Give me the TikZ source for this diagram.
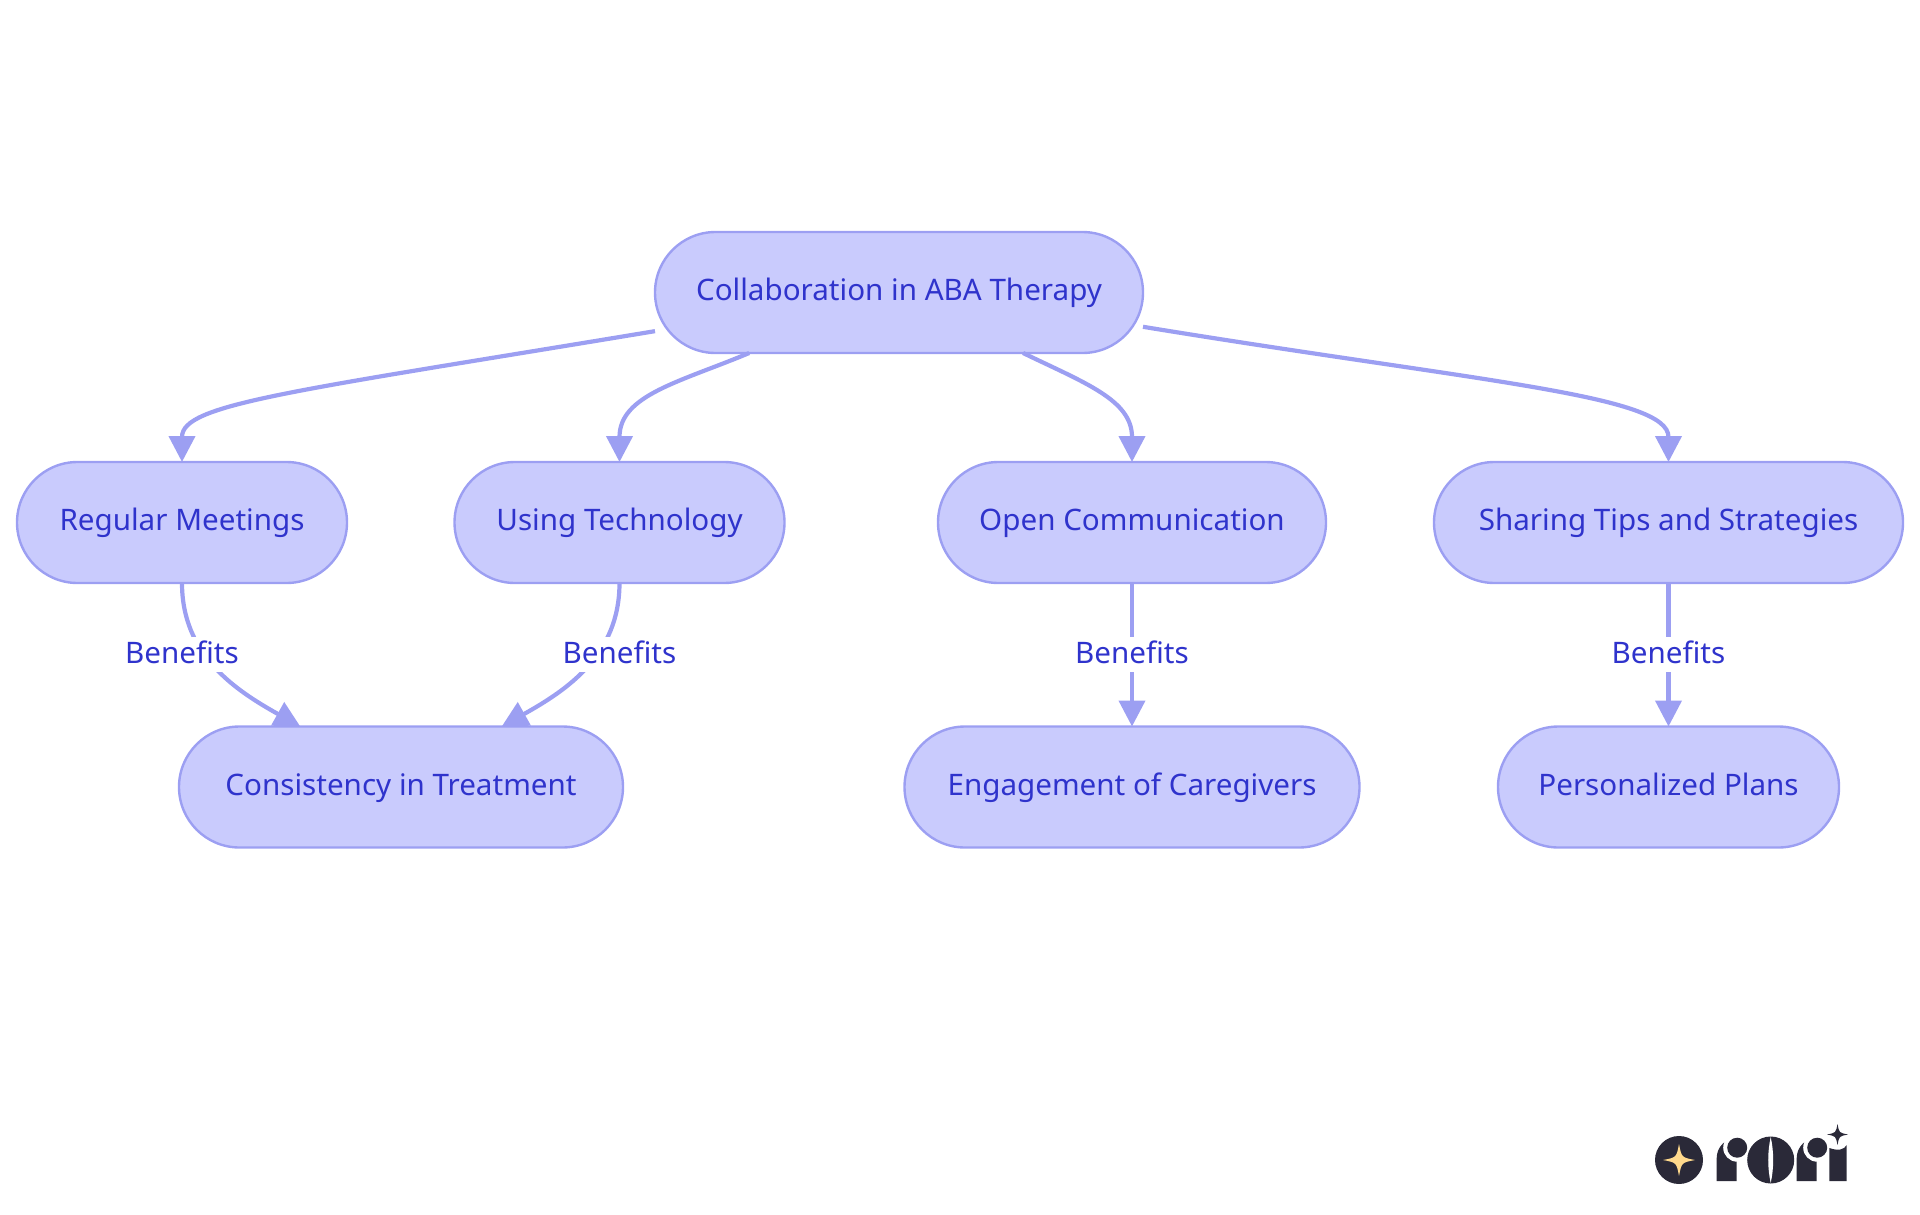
\documentclass[tikz,border=0pt]{standalone}
\usepackage{fontspec}
\setmainfont{Noto Sans}
\usetikzlibrary{arrows.meta}
\definecolor{boxfill}{HTML}{C9CBFD}
\definecolor{boxline}{HTML}{9C9FF2}
\definecolor{boxtext}{HTML}{2F33CC}
\definecolor{logodark}{HTML}{2A2938}
\definecolor{logogold}{HTML}{FFD98C}
\newcommand{\fourstar}[4]{\fill[#4] (#1,#2-#3) .. controls (#1+0.16*#3,#2-0.16*#3) .. (#1+#3,#2) .. controls (#1+0.16*#3,#2+0.16*#3) .. (#1,#2+#3) .. controls (#1-0.16*#3,#2+0.16*#3) .. (#1-#3,#2) .. controls (#1-0.16*#3,#2-0.16*#3) .. cycle;}
\newcommand{\logor}[1]{
	\fill[logodark] (#1,1181) -- (#1,1158) arc[start angle=180, end angle=270, radius=20] -- (#1+20,1181) -- cycle;
	\fill[white] (#1+20.5,1147.7) circle[radius=14];
	\fill[logodark] (#1+20.5,1147.7) circle[radius=10];
}
\begin{document}
\begin{tikzpicture}[x=1pt, y=-1pt,
	box style/.style={rectangle, draw=boxline, fill=boxfill, line width=2.4pt, rounded corners=60.5pt, minimum height=121pt, outer sep=0pt, text=boxtext, font=\fontsize{29.6}{34}\selectfont, text height=20pt, text depth=4pt},
	label style/.style={rectangle, fill=white, inner xsep=0pt, inner ysep=0pt, text=boxtext, font=\fontsize{29.6}{34}\selectfont, text height=26pt, text depth=9pt},
	link style/.style={draw=boxline, line width=4.2pt, -{Triangle[length=26pt,width=26pt]}}]
	\useasboundingbox (0,0) rectangle (1920,1215);
	\node[box style, minimum width=488pt] (S1) at (899,292.5) {Collaboration in ABA Therapy};
	\node[box style, minimum width=330pt] (S2) at (182,522.5) {Regular Meetings};
	\node[box style, minimum width=330pt] (S3) at (619.5,522.5) {Using Technology};
	\node[box style, minimum width=388pt] (S4) at (1132,522.5) {Open Communication};
	\node[box style, minimum width=469pt] (S5) at (1668.5,522.5) {Sharing Tips and Strategies};
	\node[box style, minimum width=444pt] (S6) at (401,787) {Consistency in Treatment};
	\node[box style, minimum width=455pt] (S7) at (1132,787) {Engagement of Caregivers};
	\node[box style, minimum width=341pt] (S8) at (1668.5,787) {Personalized Plans};
	\draw[link style] (S1.189) .. controls (288,392) and (182,404) .. (S2.north);
	\draw[link style] (S1.202.2) .. controls (680,382) and (619.5,395) .. (S3.north);
	\draw[link style] (S1.-26.2) .. controls (1085,383) and (1132,400) .. (S4.north);
	\draw[link style] (S1.-8.6) .. controls (1480,382) and (1668.5,395) .. (S5.north);
	\draw[link style] (S2.south) .. controls (182,655) and (235,690) .. (S6.149);
	\draw[link style] (S3.south) .. controls (619.5,655) and (567,690) .. (S6.31);
	\draw[link style] (S4) -- (S7);
	\draw[link style] (S5) -- (S8);
	\foreach \n/\x in {2/182,3/619.5,4/1132,5/1668.5}
	\node[label style] (L\n) at (\x,654.5) {Benefits};
	% logo
	\fill[logodark] (1679,1160) circle[radius=24];
	\fourstar{1679}{1160}{16}{logogold}
	\logor{1716.7}
	\logor{1796.7}
	\fill[logodark] (1770.7,1160) circle[radius=23.5];
	\fill[white] (1770.7,1137) .. controls (1774,1152) and (1774,1168) .. (1770.7,1183) .. controls (1767.4,1168) and (1767.4,1152) .. cycle;
	\fill[logodark] (1829.3,1181) -- (1829.3,1148) .. controls (1838,1151) and (1844,1150) .. (1846.7,1145) -- (1846.7,1181) -- cycle;
	\fourstar{1837.5}{1134.5}{10.5}{logodark}
\end{tikzpicture}
\end{document}
